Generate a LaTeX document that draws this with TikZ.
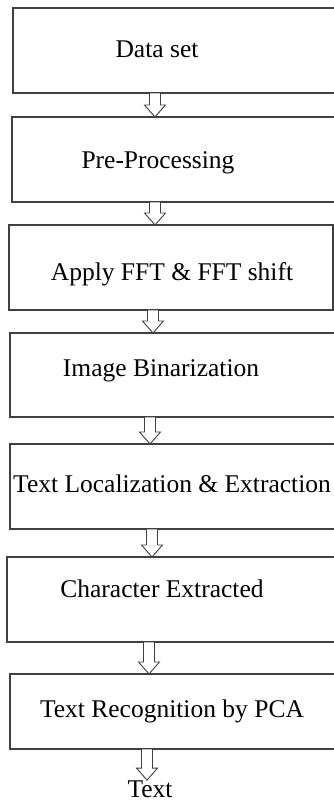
\documentclass[tikz,border=0pt]{standalone}
\usepackage{fontspec}
\setmainfont{Liberation Serif}
\usetikzlibrary{calc}
\newcommand{\drawBlockArrow}[3]{
   	\draw[blockarrow] let \p1=(#1.south), \p2=(#2.north) in (#3-5.5,\y1) -- (#3+5.5,\y1) -- (#3+5.5,\y2+12) -- (#3+10.5,\y2+12) -- (#3,\y2) -- (#3-10.5,\y2+12) -- (#3-5.5,\y2+12) -- cycle ;
}

\begin{document}
\begin{tikzpicture}[x=1pt,y=-1pt,
  stepbox/.style={draw=black!75, line width=1.2pt, rectangle, anchor=north west, minimum height=85pt, inner sep=0pt, outer sep=0pt},
  steptext/.style={anchor=base, inner sep=0pt, font=\fontsize{25.5pt}{30pt}\selectfont},
  blockarrow/.style={draw=black!75, line width=0.9pt, fill=white, line join=miter}]
%%%%%%%%%%%%%%%%%%
\useasboundingbox (0,0) rectangle (334,803);
\clip (0,0) rectangle (334,803);

%Boxes
\node[stepbox, minimum width=340pt] (dataset) at (13,8) {};
\node[stepbox, minimum width=340pt] (prepro) at (12,117) {};
\node[stepbox, minimum width=324pt] (fft) at (9,225) {};
\node[stepbox, minimum width=340pt, minimum height=84pt] (binar) at (10,333) {};
\node[stepbox, minimum width=340pt] (localize) at (10,444) {};
\node[stepbox, minimum width=340pt] (charext) at (7,557) {};
\node[stepbox, minimum width=340pt, minimum height=75pt] (recog) at (10,674) {};

%Texts
\node[steptext] (dataset-txt) at (157,57) {Data set};
\node[steptext] (prepro-txt) at (158,168) {Pre-Processing};
\node[steptext] (fft-txt) at (172,280) {Apply FFT \& FFT shift};
\node[steptext] (binar-txt) at (161,376) {Image Binarization};
\node[steptext] (localize-txt) at (172,492) {Text Localization \& Extraction};
\node[steptext] (charext-txt) at (162,597) {Character Extracted};
\node[steptext] (recog-txt) at (172,717) {Text Recognition by PCA};
\node[steptext] (out) at (150,797) {Text};

%Arrows
\drawBlockArrow{dataset}{prepro}{155}
\drawBlockArrow{prepro}{fft}{155}
\drawBlockArrow{fft}{binar}{153}
\drawBlockArrow{binar}{localize}{150}
\drawBlockArrow{localize}{charext}{152}
\drawBlockArrow{charext}{recog}{149}
\drawBlockArrow{recog}{out}{147}
\end{tikzpicture}
\end{document}
